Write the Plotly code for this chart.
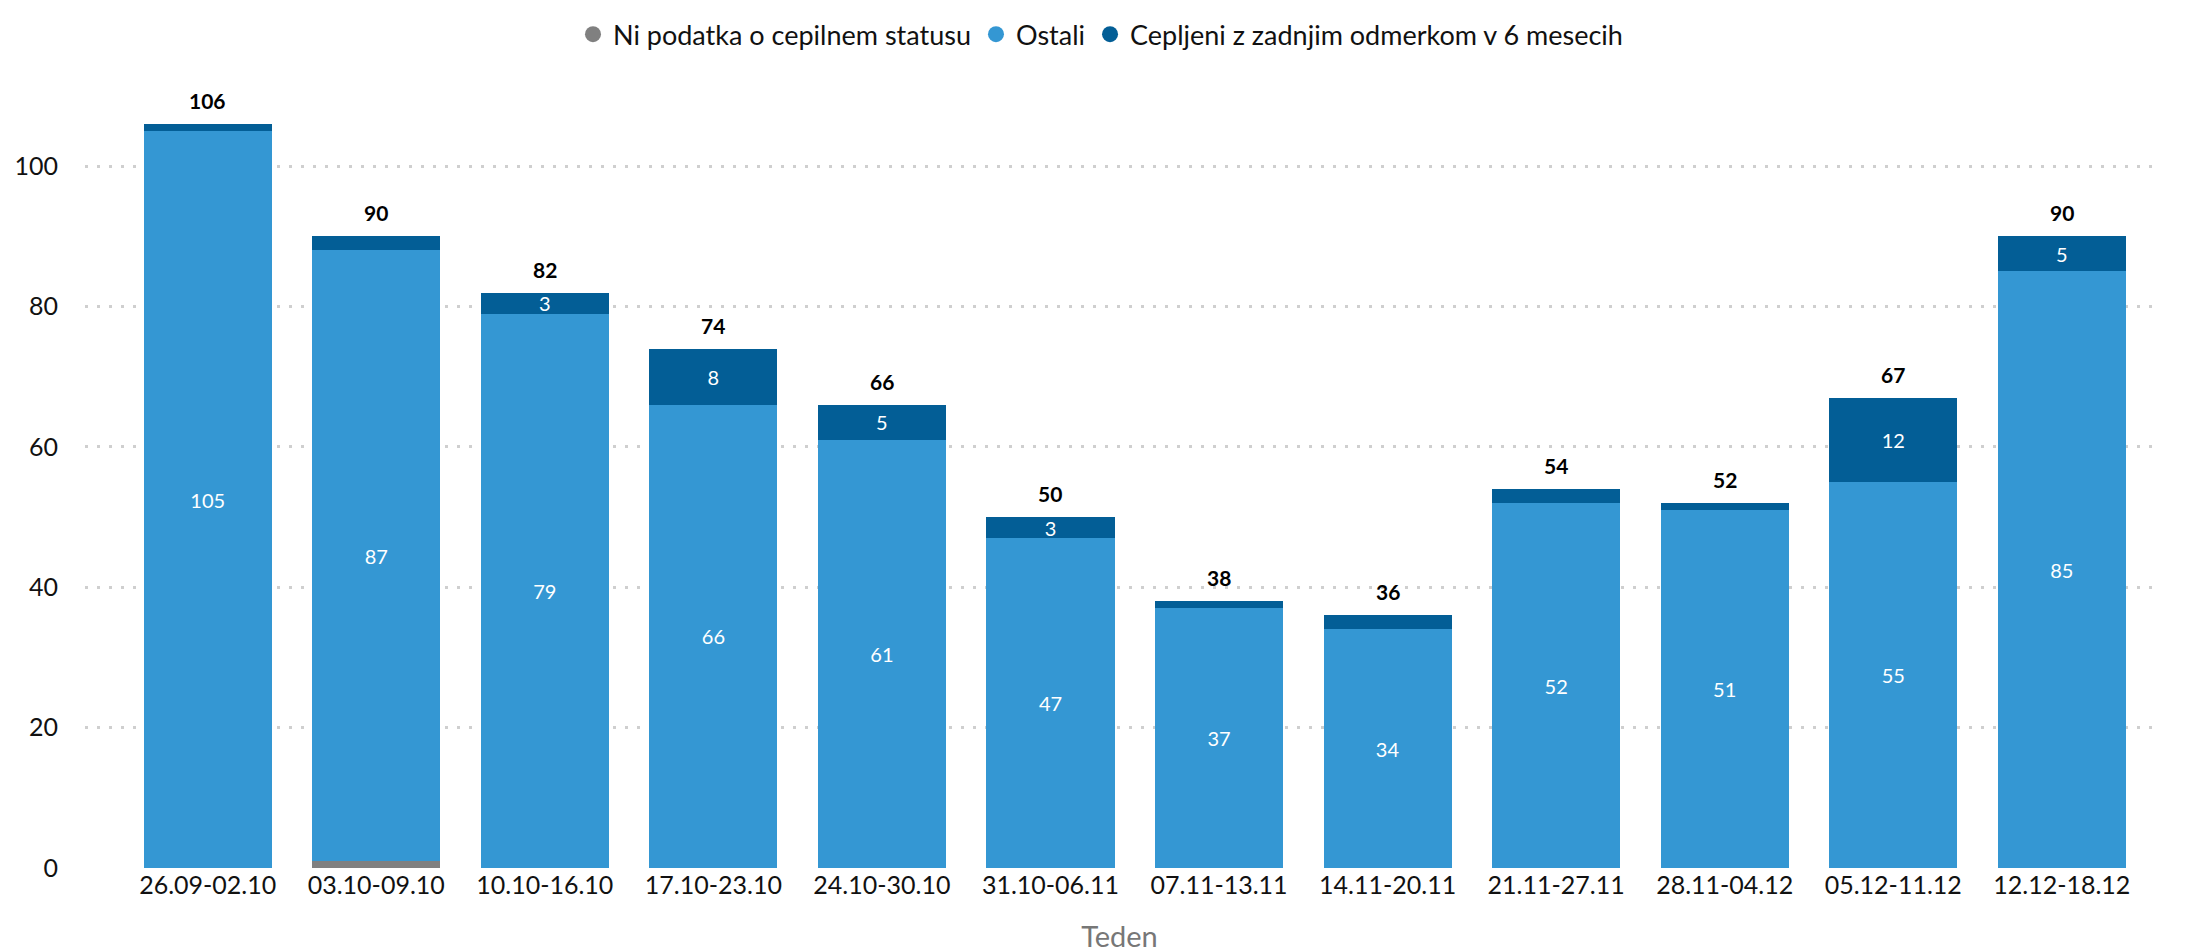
import plotly.graph_objects as go

weeks = ["26.09-02.10", "03.10-09.10", "10.10-16.10", "17.10-23.10", "24.10-30.10",
         "31.10-06.11", "07.11-13.11", "14.11-20.11", "21.11-27.11", "28.11-04.12",
         "05.12-11.12", "12.12-18.12"]
ni_podatka = [0, 1, 0, 0, 0, 0, 0, 0, 0, 0, 0, 0]
ostali = [105, 87, 79, 66, 61, 47, 37, 34, 52, 51, 55, 85]
cepljeni = [1, 2, 3, 8, 5, 3, 1, 2, 2, 1, 12, 5]
totals = [106, 90, 82, 74, 66, 50, 38, 36, 54, 52, 67, 90]

names = ["Ni podatka o cepilnem statusu", "Ostali", "Cepljeni z zadnjim odmerkom v 6 mesecih"]
colors = ["#808080", "#3497D3", "#035E96"]

FONT = "Lato"
TXT = "#111111"
fig = go.Figure()

fig.add_trace(go.Bar(x=weeks, y=ni_podatka, marker=dict(color=colors[0], line=dict(width=0)),
                     showlegend=False, hoverinfo="y"))
fig.add_trace(go.Bar(x=weeks, y=ostali, marker=dict(color=colors[1], line=dict(width=0)),
                     text=[str(v) for v in ostali], textposition="inside", insidetextanchor="middle",
                     textfont=dict(color="white", size=20, family=FONT), textangle=0,
                     constraintext="none", showlegend=False))
fig.add_trace(go.Bar(x=weeks, y=cepljeni, marker=dict(color=colors[2], line=dict(width=0)),
                     text=[str(v) if v >= 3 else "" for v in cepljeni], textposition="inside",
                     insidetextanchor="middle", textangle=0, constraintext="none",
                     textfont=dict(color="white", size=20, family=FONT),
                     showlegend=False))
for n, c in zip(names, colors):
    fig.add_trace(go.Scatter(x=[None], y=[None], mode="markers", name=n,
                             marker=dict(color=c, size=16, symbol="circle")))

for w, t in zip(weeks, totals):
    fig.add_annotation(x=w, y=t, text=f"<b>{t}</b>", showarrow=False, yanchor="bottom",
                       yshift=9, font=dict(size=21, color="black", family=FONT))

fig.update_layout(
    width=2185, height=952,
    barmode="stack", bargap=0.24,
    plot_bgcolor="white", paper_bgcolor="white",
    font=dict(family=FONT, size=24, color=TXT),
    margin=dict(l=77, r=39, t=74, b=92, autoexpand=False),
    legend=dict(orientation="h", x=0.5, xanchor="center", xref="container",
                y=0.972, yanchor="middle", yref="container",
                font=dict(size=27, color=TXT, family=FONT),
                itemsizing="trace", traceorder="normal", itemwidth=30),
    xaxis=dict(type="category", range=[-0.728, 11.547], showgrid=False, zeroline=False,
               showline=False, ticks="", tickfont=dict(size=25, color=TXT),
               title=dict(text="Teden", font=dict(size=29, color="#777"), standoff=28)),
    yaxis=dict(range=[0, 112], tickvals=[0, 20, 40, 60, 80, 100], showgrid=True,
               gridcolor="#cfcfcf", griddash="3px,9px", gridwidth=3, zeroline=False,
               showline=False, ticks="", tickfont=dict(size=25, color=TXT),
               ticklabelstandoff=26),
)

fig.write_html("out.html")
